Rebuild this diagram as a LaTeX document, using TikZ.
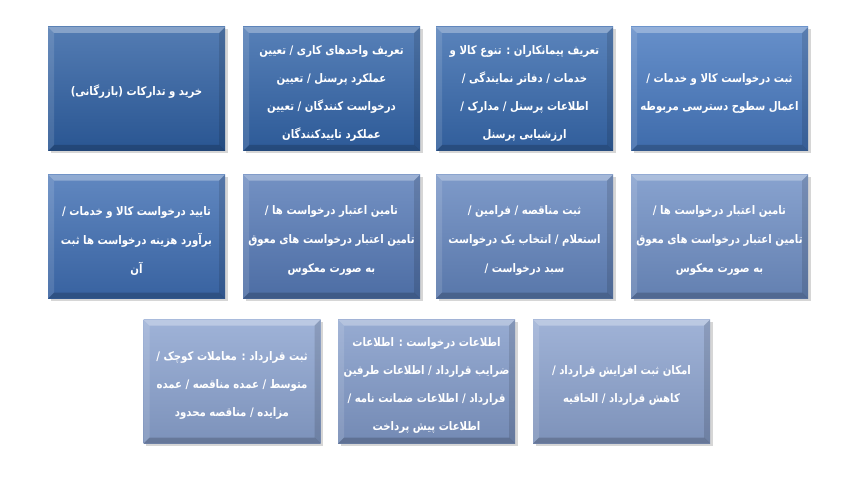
\documentclass[tikz,border=0pt]{standalone}
\usepackage{fontspec}
\usetikzlibrary{shadows}
\TeXXeTstate=1
\newfontfamily\arabicfont[Script=Arabic,FakeStretch=0.86]{DejaVu Sans}
\newcommand\rl[1]{\makebox[0pt]{\beginR#1\endR}}
\newcommand\fl[2][17.5pt]{\rule{0pt}{#1}\rl{#2}}
\definecolor{cT1}{HTML}{2E5FA2}
\definecolor{cT2}{HTML}{3264A8}
\definecolor{cT3}{HTML}{3668AC}
\definecolor{cT4}{HTML}{4577BE}
\definecolor{cM1}{HTML}{3E6DB2}
\definecolor{cM2}{HTML}{5579B6}
\definecolor{cM3}{HTML}{6284BD}
\definecolor{cM4}{HTML}{6E8EC4}
\definecolor{cB1}{HTML}{8AA2CF}
\definecolor{cB2}{HTML}{8099C8}
\definecolor{cB3}{HTML}{8BA2CE}
\tikzset{
  tile/.style={rectangle, minimum width=177pt, minimum height=124pt, inner sep=0pt,
    text=white, align=center,
    font=\arabicfont\bfseries\fontsize{11.8}{28}\selectfont,
    top color=#1!82!white, bottom color=#1!90!black,
    drop shadow={shadow xshift=2.5pt, shadow yshift=-2.5pt, fill=black!40, opacity=0.4},
    path picture={
      \fill[white, opacity=0.3] (path picture bounding box.north west) -- (path picture bounding box.north east)
        -- ([xshift=-6pt,yshift=-6pt]path picture bounding box.north east) -- ([xshift=6pt,yshift=-6pt]path picture bounding box.north west) -- cycle;
      \fill[white, opacity=0.12] (path picture bounding box.north west) -- ([xshift=6pt,yshift=-6pt]path picture bounding box.north west)
        -- ([xshift=6pt,yshift=6pt]path picture bounding box.south west) -- (path picture bounding box.south west) -- cycle;
      \fill[black, opacity=0.12] (path picture bounding box.north east) -- ([xshift=-6pt,yshift=-6pt]path picture bounding box.north east)
        -- ([xshift=-6pt,yshift=6pt]path picture bounding box.south east) -- (path picture bounding box.south east) -- cycle;
      \fill[black, opacity=0.18] (path picture bounding box.south west) -- ([xshift=6pt,yshift=6pt]path picture bounding box.south west)
        -- ([xshift=-6pt,yshift=6pt]path picture bounding box.south east) -- (path picture bounding box.south east) -- cycle;
    }},
  midrow/.style={font=\arabicfont\bfseries\fontsize{11.8}{29}\selectfont}
}
\begin{document}
\begin{tikzpicture}[x=1pt,y=-1pt]
\useasboundingbox (0,0) rectangle (854,484);
% top row
\node[tile=cT1] (t1) at (136.5,89) {\fl[15pt]{خرید و تدارکات (بازرگانی)}};
\node[tile=cT2] (t2) at (331.5,89) {\fl{تعریف واحدهای کاری / تعیین}\\\rl{عملکرد پرسنل / تعیین}\\\rl{درخواست کنندگان / تعیین}\\\rl{عملکرد تاییدکنندگان}};
\node[tile=cT3] (t3) at (524.5,89) {\fl{تعریف پیمانکاران : تنوع کالا و}\\\rl{خدمات / دفاتر نمایندگی /}\\\rl{اطلاعات پرسنل / مدارک /}\\\rl{ارزشیابی پرسنل}};
\node[tile=cT4] (t4) at (719.5,89) {\fl{ثبت درخواست کالا و خدمات /}\\\rl{اعمال سطوح دسترسی مربوطه}};
% middle row
\node[tile=cM1, midrow] (m1) at (136.5,236.5) {\fl{تایید درخواست کالا و خدمات /}\\\rl{برآورد هزینه درخواست ها ثبت}\\\rl{آن}};
\node[tile=cM2, midrow] (m2) at (331.5,236.5) {\fl{تامین اعتبار درخواست ها /}\\\rl{تامین اعتبار درخواست های معوق}\\\rl{به صورت معکوس}};
\node[tile=cM3, midrow] (m3) at (524.5,236.5) {\fl{ثبت مناقصه / فرامین /}\\\rl{استعلام / انتخاب یک درخواست}\\\rl{سبد درخواست /}};
\node[tile=cM4, midrow] (m4) at (719.5,236.5) {\fl{تامین اعتبار درخواست ها /}\\\rl{تامین اعتبار درخواست های معوق}\\\rl{به صورت معکوس}};
% bottom row
\node[tile=cB1] (b1) at (232,381.5) {\fl{ثبت قرارداد : معاملات کوچک /}\\\rl{متوسط / عمده مناقصه / عمده}\\\rl{مزایده / مناقصه محدود}};
\node[tile=cB2] (b2) at (426.5,381.5) {\fl{اطلاعات درخواست : اطلاعات}\\\rl{ضرایب قرارداد / اطلاعات طرفین}\\\rl{قرارداد / اطلاعات ضمانت نامه /}\\\rl{اطلاعات پیش پرداخت}};
\node[tile=cB3] (b3) at (621.5,381.5) {\fl{امکان ثبت افزایش قرارداد /}\\\rl{کاهش قرارداد / الحاقیه}};
\end{tikzpicture}
\end{document}
